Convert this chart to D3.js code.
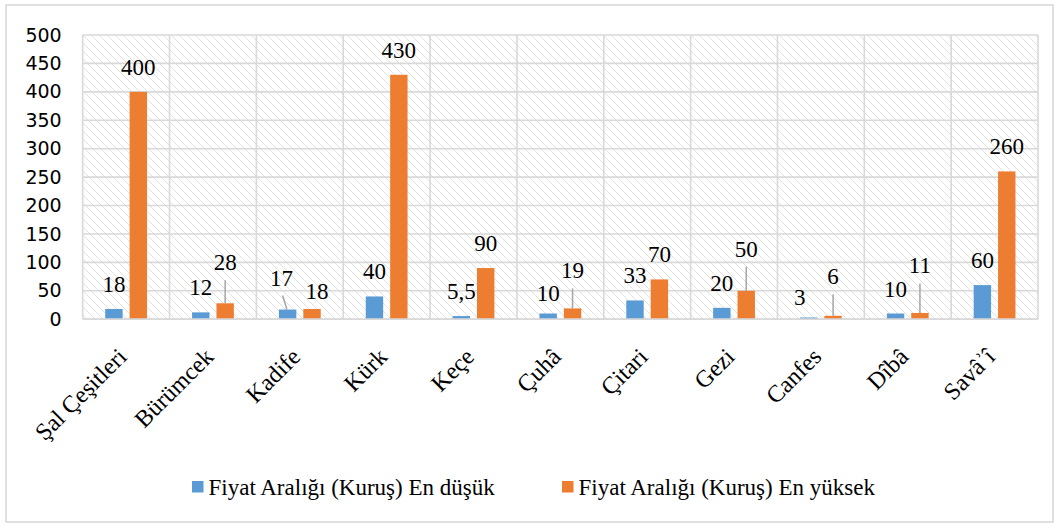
<!DOCTYPE html>
<html><head><meta charset="utf-8">
<script src="https://cdn.jsdelivr.net/npm/d3@7/dist/d3.min.js"></script>
<style>
html body svg#chart text.serif { font-family: 'Liberation Serif', 'Times New Roman', serif !important; }
html body svg#chart text.sans { font-family: 'DejaVu Sans', sans-serif !important; }
</style>
</head>
<body style="margin:0;background:#fff">
<svg id="chart" width="1060" height="527" style="display:block"></svg>
<script>
// ---- data ----
const categories = ["Şal Çeşitleri","Bürümcek","Kadife","Kürk","Keçe","Çuhâ","Çitari","Gezi","Canfes","Dîbâ","Savâʾî"];
const lowValues  = [18, 12, 17, 40, 5.5, 10, 33, 20, 3, 10, 60];
const highValues = [400, 28, 18, 430, 90, 19, 70, 50, 6, 11, 260];
const seriesNames = ["Fiyat Aralığı (Kuruş) En düşük", "Fiyat Aralığı (Kuruş) En yüksek"];
const yTicks = [0,50,100,150,200,250,300,350,400,450,500];

// ---- drawing ----
const SERIF = "'Liberation Serif', 'Times New Roman', serif";
const SANS = "'DejaVu Sans', sans-serif";
const svg = d3.select("#chart");
const colors = ["#5B9BD5", "#ED7D31"];
const grid = "#d9d9d9";
const m = {left: 82.7, top: 35, right: 1038, bottom: 319.2};

// outer frame
svg.append("rect").attr("x",6).attr("y",5).attr("width",1047).attr("height",517)
  .attr("fill","#fff").attr("stroke",grid).attr("stroke-width",1.6);

// hatch pattern
const defs = svg.append("defs");
const pat = defs.append("pattern").attr("id","hatch").attr("patternUnits","userSpaceOnUse")
  .attr("width",8).attr("height",8);
pat.append("rect").attr("width",8).attr("height",8).attr("fill","#fff");
pat.append("path").attr("d","M-2,-2 L10,10 M-2,6 L2,10 M6,-2 L10,2")
  .attr("stroke","#e2e2e2").attr("stroke-width",1);

const x = d3.scaleBand().domain(categories).range([m.left, m.right]).padding(0);
const y = d3.scaleLinear().domain([0,500]).range([m.bottom, m.top]);

svg.append("rect").attr("x",m.left).attr("y",m.top)
  .attr("width",m.right-m.left).attr("height",m.bottom-m.top).attr("fill","url(#hatch)");

// gridlines
svg.append("g").selectAll("line").data(yTicks).join("line")
  .attr("x1",m.left).attr("x2",m.right).attr("y1",d=>y(d)).attr("y2",d=>y(d))
  .attr("stroke",grid).attr("stroke-width",1.6);
// y labels
svg.append("g").selectAll("text").data(yTicks).join("text")
  .attr("class","sans")
  .attr("x", m.left-21).attr("y", d=>y(d)).attr("dy","0.35em").attr("text-anchor","end")
  .style("font-family",SANS).attr("font-size",19).attr("fill","#000").text(d=>d);

// vertical category gridlines
svg.append("g").selectAll("line").data(categories.concat(["__end"])).join("line")
  .attr("x1",(d,i)=> i<categories.length ? x(d) : m.right)
  .attr("x2",(d,i)=> i<categories.length ? x(d) : m.right)
  .attr("y1",m.top).attr("y2",m.bottom)
  .attr("stroke",grid).attr("stroke-width",1.6);

// bars
const barW = 17.4, gap = 7;
const inner = d3.scaleBand().domain([0,1]).range([0, 2*barW+gap]).paddingInner(gap/(barW+gap)).paddingOuter(0);
const off = (x.bandwidth() - (2*barW+gap))/2;
const series = [lowValues, highValues];
const bars = [];
series.forEach((vals, s) => {
  vals.forEach((v, i) => bars.push({s, i, v, cat: categories[i]}));
});
const bx = d => x(d.cat) + off + inner(d.s);
svg.append("g").selectAll("rect").data(bars).join("rect")
  .attr("x", bx).attr("y", d => y(d.v))
  .attr("width", inner.bandwidth()).attr("height", d => y(0) - y(d.v))
  .attr("fill", d => colors[d.s]);

// bottom axis line
svg.append("line").attr("x1",m.left).attr("x2",m.right).attr("y1",m.bottom).attr("y2",m.bottom)
  .attr("stroke",grid).attr("stroke-width",1.8);

// data labels (manual nudges like the original, key "series-index")
const nudge = {
  "1-1": {dx:0, dy:-33, leader:true},
  "0-2": {dx:-6, dy:-24, leader:true},
  "1-2": {dx:5, dy:-10},
  "0-5": {dx:0, dy:-12.6},
  "1-5": {dx:0, dy:-30, leader:true},
  "1-7": {dx:0, dy:-34, leader:true},
  "0-8": {dx:-9, dy:-12},
  "1-8": {dx:0, dy:-31.6, leader:true},
  "1-9": {dx:0, dy:-39.5, leader:true}
};
const fmt = v => String(v).replace(".", ",");
const lbl = svg.append("g");
bars.forEach(d => {
  const n = nudge[d.s+"-"+d.i] || {dx:0, dy:-17};
  const cx = bx(d) + inner.bandwidth()/2;
  const top = y(d.v);
  const tx = cx + n.dx, ty = top + n.dy;
  if (n.leader) {
    lbl.append("line").attr("x1", tx + (n.dx<0?1:0)).attr("y1", ty + 10)
      .attr("x2", cx + (n.dx<0?-0.7:0)).attr("y2", top)
      .attr("stroke","#a6a6a6").attr("stroke-width",1.5);
  }
  lbl.append("text").attr("class","serif").attr("x", tx).attr("y", ty).attr("text-anchor","middle")
    .style("font-family",SERIF).attr("font-size",23).attr("fill","#000").text(fmt(d.v));
});

// category labels
svg.append("g").selectAll("text").data(categories).join("text")
  .attr("class","serif")
  .attr("transform", d => `translate(${x(d)+x.bandwidth()/2+2},${m.bottom+39}) rotate(-45)`)
  .attr("text-anchor","end")
  .style("font-family",SERIF).attr("font-size",24).attr("fill","#000").text(d => d);

// legend
const legX = [192, 562];
const leg = svg.append("g");
seriesNames.forEach((name, s) => {
  leg.append("rect").attr("x",legX[s]).attr("y",481).attr("width",11.5).attr("height",11.5).attr("fill",colors[s]);
  leg.append("text").attr("class","serif").attr("x",legX[s]+16.5).attr("y",495)
    .style("font-family",SERIF).attr("font-size",23).attr("fill","#000").text(name);
});
</script>
</body></html>
